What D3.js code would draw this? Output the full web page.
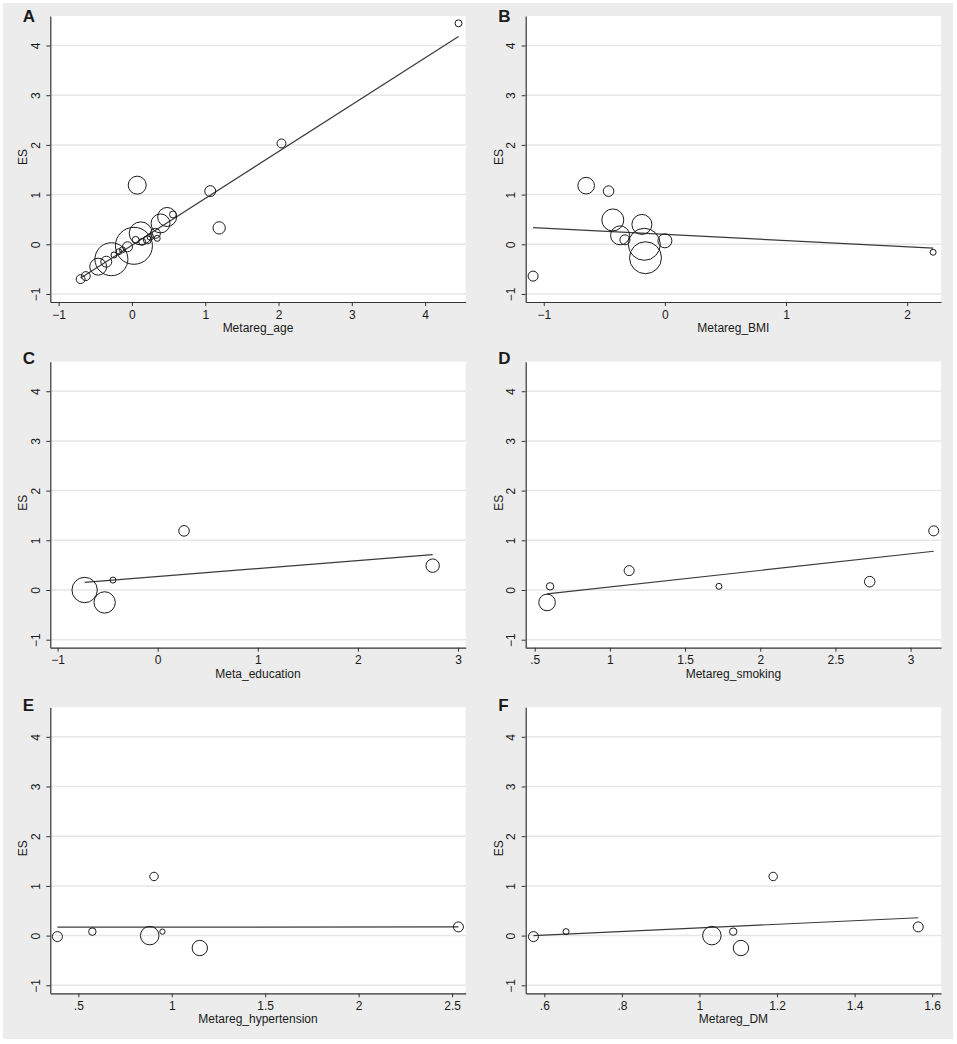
<!DOCTYPE html>
<meta charset="utf-8">
<head>
<script src="https://d3js.org/d3.v7.min.js"></script>
<style>
body { margin: 0; background: #fff; }
text { font-family: "Liberation Sans", Arial, sans-serif; fill: #1a1a1a; }
</style>
</head>
<body>

<div id="container"></div>

<script>

// studies per panel: [covariate, ES, weight]
var pointsAge = [
  [4.456, 4.447, 12], [2.04, 2.03, 20], [1.068, 1.07, 30], [1.19, 0.33, 38],
  [0.072, 1.19, 81], [0.027, -0.03, 342], [-0.28, -0.30, 272], [-0.46, -0.45, 72],
  [-0.35, -0.35, 30], [-0.70, -0.70, 20], [-0.63, -0.64, 20], [-0.245, -0.215, 9],
  [-0.18, -0.15, 9], [-0.13, -0.11, 9], [-0.06, -0.05, 25], [0.12, 0.22, 132],
  [0.05, 0.09, 12], [0.14, 0.05, 12], [0.21, 0.09, 16], [0.25, 0.15, 11],
  [0.345, 0.12, 9], [0.32, 0.22, 25], [0.39, 0.42, 90], [0.48, 0.55, 90],
  [0.56, 0.60, 12]
];
var pointsBMI = [
  [-1.088, -0.64, 25], [-0.65, 1.18, 69], [-0.465, 1.07, 28], [-0.43, 0.49, 121],
  [-0.37, 0.18, 90], [-0.33, 0.09, 25], [-0.19, 0.40, 100], [-0.17, 0.0, 256],
  [-0.16, -0.27, 256], [0.0, 0.07, 49], [2.214, -0.16, 9]
];
var pointsEdu = [
  [-0.73, 0.0, 161], [-0.53, -0.25, 114], [-0.447, 0.2, 9], [0.263, 1.19, 28],
  [2.747, 0.49, 45]
];
var pointsSmoking = [
  [0.582, -0.25, 69], [0.602, 0.074, 14], [1.128, 0.39, 25], [1.725, 0.074, 9],
  [2.728, 0.168, 28], [3.154, 1.19, 25]
];
var pointsHyp = [
  [0.388, -0.02, 25], [0.575, 0.08, 14], [0.882, 0.0, 86], [0.905, 1.19, 18],
  [0.95, 0.08, 7], [1.15, -0.25, 59], [2.534, 0.175, 25]
];
var pointsDM = [
  [0.572, -0.02, 25], [0.656, 0.08, 9], [1.032, 0.0, 86], [1.087, 0.08, 14],
  [1.107, -0.25, 59], [1.19, 1.19, 18], [1.564, 0.175, 25]
];

// fitted meta-regression lines: [intercept, slope]
var fitAge = [-0.02, 0.943];
var fitBMI = [0.199, -0.124];
var fitEdu = [0.272, 0.16];
var fitSmoking = [-0.274, 0.334];
var fitHyp = [0.168, 0.003];
var fitDM = [-0.208, 0.363];

var panelLetters = ["A", "B", "C", "D", "E", "F"];
var xTitles = ["Metareg_age", "Metareg_BMI", "Meta_education", "Metareg_smoking", "Metareg_hypertension", "Metareg_DM"];
var xTicksAll = [
  [-1, 0, 1, 2, 3, 4],
  [-1, 0, 1, 2],
  [-1, 0, 1, 2, 3],
  [0.5, 1, 1.5, 2, 2.5, 3],
  [0.5, 1, 1.5, 2, 2.5],
  [0.6, 0.8, 1, 1.2, 1.4, 1.6]
];
var xDomains = [
  [-1.114, 4.554], [-1.149, 2.28], [-1.073, 3.077],
  [0.44, 3.203], [0.35, 2.573], [0.552, 1.623]
];
var yTicks = [-1, 0, 1, 2, 3, 4];
var yDomain = [-1.161, 4.594];

var allPoints = [pointsAge, pointsBMI, pointsEdu, pointsSmoking, pointsHyp, pointsDM];
var allFits = [fitAge, fitBMI, fitEdu, fitSmoking, fitHyp, fitDM];

var width = 957, height = 1044;
var colLeft = [50.3, 525.7];
var rowTop = [16, 361.7, 707.3];
var letterBase = [22, 363.5, 710.5];
var plotW = 415.4, plotH = 286;

var svg = d3.select('#container')
  .append('svg')
  .attr('width', width)
  .attr('height', height);

svg.append('rect')
  .attr('x', 3).attr('y', 3)
  .attr('width', 950).attr('height', 1036)
  .attr('fill', '#ececec');

// bubble area ~ weight
var rScale = d3.scaleSqrt().domain([0, 400]).range([0, 20]);

// stata style tick labels: .5 instead of 0.5
function stataFmt(d) {
  var s = d3.format("~g")(d);
  return s.replace(/^0\./, ".").replace(/^-0\./, "-.");
}

for (let p = 0; p < 6; p++) {
  let col = p % 2, row = Math.floor(p / 2);
  let left = colLeft[col], top = rowTop[row];

  let x = d3.scaleLinear().domain(xDomains[p]).range([0, plotW]);
  let y = d3.scaleLinear().domain(yDomain).range([plotH, 0]);

  let g = svg.append('g').attr('transform', 'translate(' + left + ',' + top + ')');

  g.append('rect')
    .attr('width', plotW).attr('height', plotH)
    .attr('fill', '#fff');

  // horizontal grid
  g.selectAll('.grid').data(yTicks).enter()
    .append('line')
    .attr('x1', 0).attr('x2', plotW)
    .attr('y1', d => y(d)).attr('y2', d => y(d))
    .attr('stroke', '#e6e6e6')
    .attr('stroke-width', 1.5);

  // fitted line over the covariate range
  let pts = allPoints[p], fit = allFits[p];
  let xr = d3.extent(pts, d => d[0]);
  g.append('line')
    .attr('x1', x(xr[0])).attr('y1', y(fit[0] + fit[1] * xr[0]))
    .attr('x2', x(xr[1])).attr('y2', y(fit[0] + fit[1] * xr[1]))
    .attr('stroke', '#3a3a3a')
    .attr('stroke-width', 1.2);

  g.selectAll('.pt').data(pts).enter()
    .append('circle')
    .attr('cx', d => x(d[0]))
    .attr('cy', d => y(d[1]))
    .attr('r', d => rScale(d[2]))
    .attr('fill', 'none')
    .attr('stroke', '#1a1a1a')
    .attr('stroke-width', 1);

  // axes
  let xAxis = g.append('g')
    .attr('transform', 'translate(0,' + plotH + ')')
    .call(d3.axisBottom(x).tickValues(xTicksAll[p]).tickFormat(stataFmt).tickSize(4).tickSizeOuter(0));
  xAxis.select('.domain').attr('stroke', '#333').attr('stroke-width', 1.2);
  xAxis.selectAll('.tick line').attr('stroke', '#333');
  xAxis.selectAll('.tick text')
    .attr('y', 16.5).attr('dy', null)
    .attr('font-size', 12);

  let yAxis = g.append('g')
    .call(d3.axisLeft(y).tickValues(yTicks).tickFormat(stataFmt).tickSize(4).tickSizeOuter(0));
  yAxis.select('.domain').attr('stroke', '#333').attr('stroke-width', 1.2);
  yAxis.selectAll('.tick line').attr('stroke', '#333');
  yAxis.selectAll('.tick text')
    .attr('x', 0).attr('dy', null)
    .attr('text-anchor', 'middle')
    .attr('transform', 'translate(-10.5,0) rotate(-90)')
    .attr('font-size', 12);

  g.append('text')
    .attr('x', plotW / 2).attr('y', plotH + 30)
    .attr('text-anchor', 'middle')
    .attr('font-size', 12)
    .text(xTitles[p]);

  g.append('text')
    .attr('transform', 'translate(-23,141) rotate(-90)')
    .attr('text-anchor', 'middle')
    .attr('font-size', 12)
    .text('ES');

  svg.append('text')
    .attr('x', left - 27.5).attr('y', letterBase[row])
    .attr('font-size', 17)
    .attr('font-weight', 'bold')
    .text(panelLetters[p]);
}

</script>

</body>
